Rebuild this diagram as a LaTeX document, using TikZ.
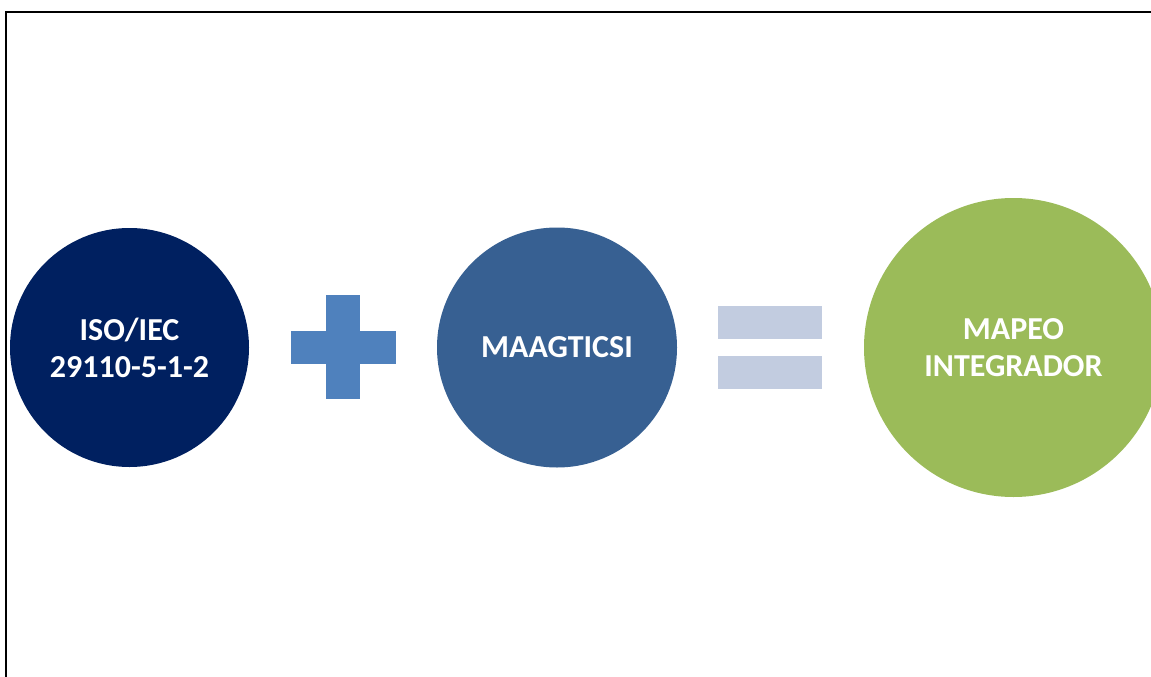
\documentclass[tikz,border=0pt]{standalone}
\usepackage{fontspec}
\setmainfont{Carlito}
\definecolor{navy}{HTML}{002060}
\definecolor{midblue}{HTML}{376092}
\definecolor{plusblue}{HTML}{4F81BD}
\definecolor{green}{HTML}{9BBB59}
\definecolor{eqgrey}{HTML}{C2CCE0}
\begin{document}
\begin{tikzpicture}[x=1pt,y=-1pt,
  disc/.style={circle,inner sep=0pt,text=white,font=\fontsize{32}{37}\selectfont\bfseries,align=center},
  bar/.style={draw=none}]
\useasboundingbox (0,0) rectangle (1151,677);
\clip (0,0) rectangle (1151,677);
\fill[white] (0,0) rectangle (1151,677);
\draw[line width=2.5pt] (6,677) -- (6,12) -- (1151,12);
\node[disc,fill=navy,minimum size=239pt] (iso) at (129.5,347.5) {ISO/IEC\\29110-5-1-2};
\node[disc,fill=midblue,minimum size=240pt] (maag) at (557,347.5) {MAAGTICSI};
\node[disc,fill=green,minimum size=299pt] (mapeo) at (1013.5,347.5) {MAPEO\\INTEGRADOR};
\fill[plusblue] (326,295) rectangle (360,399);
\fill[plusblue] (291,331) rectangle (396,364);
\fill[eqgrey] (718,306) rectangle (822,339);
\fill[eqgrey] (718,356) rectangle (822,389);
\end{tikzpicture}
\end{document}
